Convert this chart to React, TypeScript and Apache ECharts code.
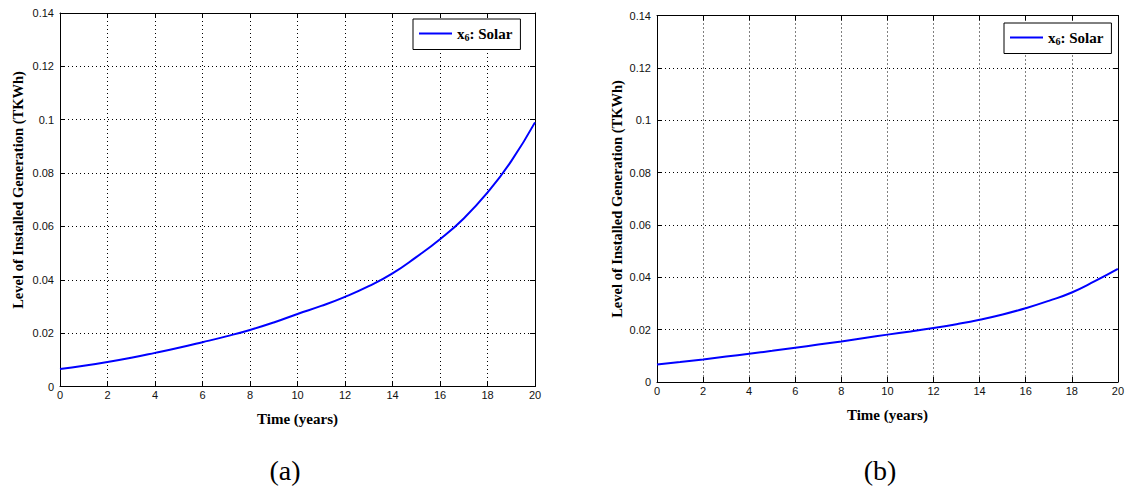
import React, { useEffect, useRef } from "react";
import * as echarts from "echarts";

const years = [0, 1, 2, 3, 4, 5, 6, 7, 8, 9, 10, 11, 12, 13, 14, 15, 16, 17, 18, 19, 20];
const solarA = [0.0066, 0.0078, 0.0092, 0.0108, 0.0126, 0.0145, 0.0166, 0.0188, 0.0212, 0.024, 0.0272, 0.0302, 0.0336, 0.0376, 0.0424, 0.0485, 0.0552, 0.063, 0.0727, 0.0845, 0.099];
const solarB = [0.0067, 0.0076, 0.0086, 0.0097, 0.0108, 0.0119, 0.0131, 0.0143, 0.0155, 0.0168, 0.0181, 0.0193, 0.0206, 0.0221, 0.0238, 0.0258, 0.0282, 0.031, 0.0342, 0.0385, 0.0432];
const seriesName = "x6: Solar";
const yTitle = "Level of Installed Generation (TKWh)";
const xTitle = "Time (years)";
const panelLabels = ["(a)", "(b)"];

const SERIF = "'Liberation Serif', 'Times New Roman', serif";
const SANS = "'Liberation Sans', Arial, sans-serif";

export default function App() {
  const ref = useRef<HTMLDivElement>(null);
  useEffect(() => {
    if (!ref.current) return;
    const chart = echarts.init(ref.current, null, { renderer: "svg" });
    const grids = [
      { left: 60, top: 13, width: 475, height: 373.5 },
      { left: 657, top: 15.5, width: 466, height: 366.5 },
    ];
    const fmtY = (v: number) => String(+v.toFixed(2));
    const xAxes: any[] = [];
    const yAxes: any[] = [];
    grids.forEach((g, i) => {
      xAxes.push({
        type: "value", gridIndex: i, min: 0, max: 20, interval: 2, position: "bottom",
        name: xTitle, nameLocation: "middle", nameGap: 25,
        nameTextStyle: { fontFamily: SERIF, fontWeight: "bold", fontSize: 15, color: "#000" },
        axisLine: { show: true, onZero: false, lineStyle: { color: "#000", width: 1 } },
        axisTick: { show: true, inside: true, length: 5, lineStyle: { color: "#000" } },
        axisLabel: { fontFamily: SANS, fontSize: 11, color: "#111", margin: 3 },
        splitLine: { show: true, lineStyle: { color: "#000", type: [1, 3], width: 1 } },
      });
      xAxes.push({
        type: "value", gridIndex: i, min: 0, max: 20, interval: 2, position: "top",
        axisLine: { show: true, onZero: false, lineStyle: { color: "#000", width: 1 } },
        axisTick: { show: true, inside: true, length: 5, lineStyle: { color: "#000" } },
        axisLabel: { show: false }, splitLine: { show: false },
      });
      yAxes.push({
        type: "value", gridIndex: i, min: 0, max: 0.14, interval: 0.02, position: "left",
        axisLine: { show: true, onZero: false, lineStyle: { color: "#000", width: 1 } },
        axisTick: { show: true, inside: true, length: 5, lineStyle: { color: "#000" } },
        axisLabel: { fontFamily: SANS, fontSize: 11, color: "#111", margin: 6, formatter: fmtY },
        splitLine: { show: true, lineStyle: { color: "#000", type: [1, 3], width: 1 } },
      });
      yAxes.push({
        type: "value", gridIndex: i, min: 0, max: 0.14, interval: 0.02, position: "right",
        axisLine: { show: true, onZero: false, lineStyle: { color: "#000", width: 1 } },
        axisTick: { show: true, inside: true, length: 5, lineStyle: { color: "#000" } },
        axisLabel: { show: false }, splitLine: { show: false },
      });
    });
    const mkLegend = (left: number, top: number) => ({
      show: true, left, top, orient: "horizontal",
      data: [seriesName],
      backgroundColor: "#fff", borderColor: "#000", borderWidth: 1,
      padding: [7, 8, 7, 6], itemWidth: 33, itemHeight: 2, itemGap: 5,
      icon: "rect",
      selectedMode: false,
      formatter: () => "{a|x}{b|6}{a|: Solar}",
      textStyle: {
        rich: {
          a: { fontFamily: SERIF, fontWeight: "bold", fontSize: 15, color: "#000" },
          b: { fontFamily: SERIF, fontWeight: "bold", fontSize: 10, color: "#000", padding: [8, 0, 0, 0] },
        },
      },
    });
    const yTitleText = (x: number, y: number) => ({
      type: "text", x, y, rotation: Math.PI / 2,
      style: { text: yTitle, font: `bold 14.5px ${SERIF}`, fill: "#000", textAlign: "center", textVerticalAlign: "middle" },
    });
    chart.setOption({
      animation: false,
      backgroundColor: "#fff",
      grid: grids.map((g) => ({ ...g, show: false })),
      xAxis: xAxes,
      yAxis: yAxes,
      legend: [mkLegend(413, 19), mkLegend(1004, 23)],
      series: [
        {
          name: seriesName, type: "line", xAxisIndex: 0, yAxisIndex: 0, smooth: true, showSymbol: false,
          lineStyle: { color: "#0000ff", width: 2 }, itemStyle: { color: "#0000ff" },
          data: years.map((t, k) => [t, solarA[k]]),
        },
        {
          name: seriesName, type: "line", xAxisIndex: 2, yAxisIndex: 2, smooth: true, showSymbol: false,
          lineStyle: { color: "#0000ff", width: 2 }, itemStyle: { color: "#0000ff" },
          data: years.map((t, k) => [t, solarB[k]]),
        },
      ],
      graphic: [
        yTitleText(18, 190),
        yTitleText(617, 199),
        { type: "text", x: 285, y: 470, style: { text: panelLabels[0], font: `28px ${SERIF}`, fill: "#000", textAlign: "center", textVerticalAlign: "middle" } },
        { type: "text", x: 880, y: 470, style: { text: panelLabels[1], font: `28px ${SERIF}`, fill: "#000", textAlign: "center", textVerticalAlign: "middle" } },
      ],
    });
    return () => chart.dispose();
  }, []);
  return <div ref={ref} style={{ position: "fixed", left: 0, top: 0, width: 1127, height: 495 }} />;
}
